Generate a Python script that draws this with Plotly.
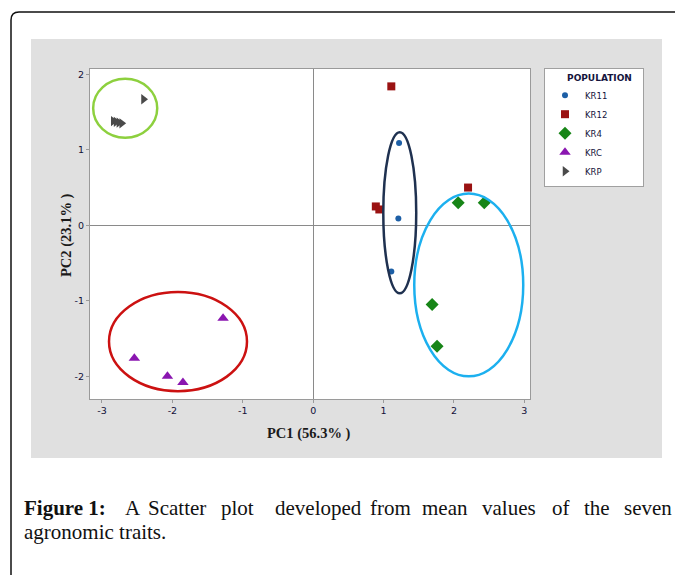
import plotly.graph_objects as go

# ---------------- data ----------------
populations = ["KR11", "KR12", "KR4", "KRC", "KRP"]
kr11_pc1 = [1.22, 1.21, 1.11]
kr11_pc2 = [1.09, 0.09, -0.61]
kr12_pc1 = [1.11, 0.89, 0.94, 2.20]
kr12_pc2 = [1.84, 0.25, 0.21, 0.50]
kr4_pc1 = [2.06, 2.43, 1.69, 1.76]
kr4_pc2 = [0.30, 0.30, -1.05, -1.60]
krc_pc1 = [-1.28, -2.54, -2.07, -1.85]
krc_pc2 = [-1.23, -1.76, -2.00, -2.08]
krp_pc1 = [-2.41, -2.84, -2.80, -2.76, -2.72]
krp_pc2 = [1.67, 1.38, 1.37, 1.36, 1.35]

# grouping ellipses (data units): centre x, centre y, radius x, radius y
ellipse_cx = [-2.67, -1.92, 1.23, 2.21]
ellipse_cy = [1.55, -1.54, 0.166, -0.79]
ellipse_rx = [0.455, 0.98, 0.234, 0.774]
ellipse_ry = [0.39, 0.656, 1.066, 1.21]

x_ticks = [-3, -2, -1, 0, 1, 2, 3]
x_tick_labels = ["-3", "-2", "-1", "0", "1", "2", "3"]
y_ticks = [-2, -1, 0, 1, 2]
y_tick_labels = ["-2", "-1", "0", "1", "2"]
x_title = "PC1 (56.3% )"
y_title = "PC2 (23.1% )"
legend_title = "POPULATION"
caption_bold = "Figure 1:"
caption_line1_words = ["A", "Scatter", "plot", "developed", "from", "mean",
                       "values", "of", "the", "seven"]
caption_line2 = "agronomic traits."

# ---------------- styles ----------------
series = [
    (kr11_pc1, kr11_pc2, "circle", "#1d5fa6", 6),
    (kr12_pc1, kr12_pc2, "square", "#9a1212", 8),
    (kr4_pc1, kr4_pc2, "diamond", "#178517", 10),
    (krc_pc1, krc_pc2, "triangle-up", "#8a16b0", 10),
    (krp_pc1, krp_pc2, "triangle-right", "#4a4a4a", 9),
]
ellipse_colors = ["#8dd03e", "#cc1111", "#1f3150", "#1cb0ef"]

W, H = 675, 575
L, R, T, B = 90, 530, 69, 399  # plot area in pixels
pw, ph = R - L, B - T


def px(xp):
    return (xp - L) / pw


def py(yp):
    return (B - yp) / ph


fig = go.Figure()
for name, (xs, ys, sym, col, sz) in zip(populations, series):
    fig.add_trace(go.Scatter(
        x=xs, y=ys, mode="markers", name=name,
        marker=dict(symbol=sym, color=col, size=sz, line=dict(width=0)),
    ))

shapes = []
# grey textured panel
shapes.append(dict(type="rect", xref="paper", yref="paper",
                   x0=px(31), x1=px(662), y0=py(458), y1=py(39),
                   fillcolor="#e0e0e0", line=dict(width=0), layer="below"))
# outer frame with rounded corner
fx, fy = px(11), py(12)
rx_, ry_ = 8 / pw, 8 / ph
path = (f"M {fx},{py(600)} L {fx},{fy - ry_} Q {fx},{fy} {fx + rx_},{fy} "
        f"L {px(700)},{fy}")
shapes.append(dict(type="path", xref="paper", yref="paper", path=path,
                   line=dict(color="#111111", width=1.5)))
# white plot area
shapes.append(dict(type="rect", xref="paper", yref="paper",
                   x0=0, x1=1, y0=0, y1=1,
                   fillcolor="white", line=dict(width=0), layer="below"))
# ellipses
for cx, cy, erx, ery, col in zip(ellipse_cx, ellipse_cy, ellipse_rx,
                                 ellipse_ry, ellipse_colors):
    shapes.append(dict(type="circle", xref="x", yref="y",
                       x0=cx - erx, x1=cx + erx, y0=cy - ery, y1=cy + ery,
                       line=dict(color=col, width=2.5)))

annotations = []
title_font = dict(family="Liberation Serif", size=14.5, color="#1a1a1a")
annotations.append(dict(text=f"<b>{x_title}</b>", xref="paper", yref="paper",
                        x=px(309), y=py(434), xanchor="center",
                        yanchor="middle", showarrow=False, font=title_font))
annotations.append(dict(text=f"<b>{y_title}</b>", xref="paper", yref="paper",
                        x=px(66), y=py(235), xanchor="center",
                        yanchor="middle", showarrow=False, textangle=-90,
                        font=title_font))

# caption (justified first line)
cap_font = dict(family="Liberation Serif", size=21, color="#111111")
line1_y, line2_y = 508, 532
annotations.append(dict(text=f"<b>{caption_bold}</b>", xref="paper",
                        yref="paper", x=px(22), y=py(line1_y),
                        xanchor="left", yanchor="middle", showarrow=False,
                        font=cap_font))
word_x = [123, 146, 219, 273, 368, 420, 480, 550, 582, 622]
for wx, w in zip(word_x, caption_line1_words):
    annotations.append(dict(text=w, xref="paper", yref="paper", x=px(wx),
                            y=py(line1_y), xanchor="left", yanchor="middle",
                            showarrow=False, font=cap_font))
annotations.append(dict(text=caption_line2, xref="paper", yref="paper",
                        x=px(22), y=py(line2_y), xanchor="left",
                        yanchor="middle", showarrow=False, font=cap_font))

tick_font = dict(family="DejaVu Sans", size=9.5, color="#101038")
axis_common = dict(showgrid=False, zeroline=True, zerolinecolor="#8a8a8a",
                   zerolinewidth=1, showline=True, linecolor="#9a9a9a",
                   linewidth=1, mirror=True, ticks="outside", ticklen=3,
                   tickcolor="#9a9a9a", tickfont=tick_font)
nb = "&nbsp;"
fig.update_layout(
    width=W, height=H,
    margin=dict(l=L, r=W - R, t=T, b=H - B, pad=0),
    paper_bgcolor="white", plot_bgcolor="rgba(0,0,0,0)",
    shapes=shapes, annotations=annotations,
    xaxis=dict(range=[-3.17, 3.08], tickvals=x_ticks,
               ticktext=x_tick_labels, **axis_common),
    yaxis=dict(range=[-2.30, 2.07], tickvals=y_ticks,
               ticktext=y_tick_labels, **axis_common),
    legend=dict(x=px(544), y=py(68), xanchor="left", yanchor="top",
                bgcolor="white", bordercolor="#a0a0a0", borderwidth=1,
                font=dict(family="DejaVu Sans", size=8.5, color="#14143c"),
                title=dict(text=nb * 7 + f"<b>{legend_title}</b>" + nb * 3,
                           side="top",
                           font=dict(family="DejaVu Sans", size=9,
                                     color="#14143c")),
                tracegroupgap=0, itemwidth=30),
    showlegend=True,
)

fig.write_html("out.html", config={"displayModeBar": False},
               post_script="document.body.style.margin='0px';")
